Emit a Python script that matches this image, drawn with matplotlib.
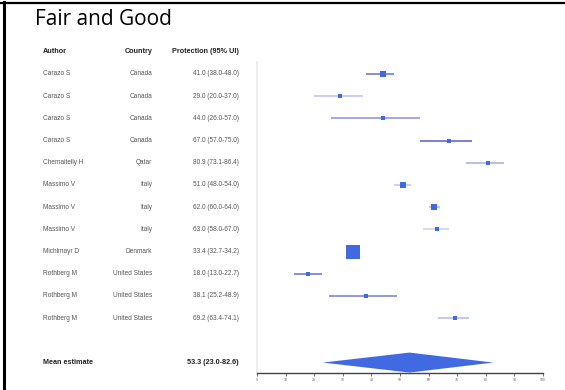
import matplotlib
matplotlib.use("Agg")
import matplotlib.pyplot as plt
import matplotlib.transforms as mtransforms
from matplotlib.patches import Polygon

authors = ["Carazo S", "Carazo S", "Carazo S", "Carazo S", "Chemaitelly H",
           "Massimo V", "Massimo V", "Massimo V", "Michlmayr D",
           "Rothberg M", "Rothberg M", "Rothberg M"]
countries = ["Canada", "Canada", "Canada", "Canada", "Qatar",
             "Italy", "Italy", "Italy", "Denmark",
             "United States", "United States", "United States"]
labels = ["41.0 (38.0-48.0)", "29.0 (20.0-37.0)", "44.0 (26.0-57.0)",
          "67.0 (57.0-75.0)", "80.9 (73.1-86.4)", "51.0 (48.0-54.0)",
          "62.0 (60.0-64.0)", "63.0 (58.0-67.0)", "33.4 (32.7-34.2)",
          "18.0 (13.0-22.7)", "38.1 (25.2-48.9)", "69.2 (63.4-74.1)"]
estimates = [44.0, 29.0, 44.0, 67.0, 80.9, 51.0, 62.0, 63.0, 33.4, 18.0, 38.1, 69.2]
lower = [38.0, 20.0, 26.0, 57.0, 73.1, 48.0, 60.0, 58.0, 32.7, 13.0, 25.2, 63.4]
upper = [48.0, 37.0, 57.0, 75.0, 86.4, 54.0, 64.0, 67.0, 34.2, 22.7, 48.9, 74.1]
weights = [4.3, 3.0, 2.8, 3.0, 3.2, 4.8, 5.0, 3.5, 10.5, 3.5, 2.7, 3.5]
line_colors = ["#7e84d9", "#c6c9ee", "#9ca1e2", "#6d73d5", "#b3b7ea", "#c9ccef",
               "#c3c6ee", "#d2d5f2", "#c3c6ee", "#7f85d9", "#8b90dc", "#c0c4ed"]
mean_est, mean_lo, mean_hi = 53.3, 23.0, 82.6
mean_label = "53.3 (23.0-82.6)"
xticks = [0, 10, 20, 30, 40, 50, 60, 70, 80, 90, 100]

W, H = 565, 390
fig = plt.figure(figsize=(W / 100, H / 100), dpi=100)
fig.patch.set_facecolor("white")

# frame lines
fig.add_artist(plt.Line2D([0, 1], [1 - 2.5 / H, 1 - 2.5 / H], color="black", lw=1.6,
                          transform=fig.transFigure))
fig.add_artist(plt.Line2D([4 / W, 4 / W], [0, 1 - 2 / H], color="black", lw=2.2,
                          transform=fig.transFigure))

fig.text(35 / W, 1 - 19.5 / H, "Fair and Good", fontsize=15, family="Open Sans",
         ha="left", va="center", color="black")

ax = fig.add_axes([257 / W, 17 / H, (543 - 257) / W, (373 - 62) / H])
n = len(authors)
y0 = -0.54
y1 = 13.47
ax.set_ylim(y1, y0)
ax.set_xlim(0, 100)

for i in range(n):
    ax.plot([lower[i], upper[i]], [i, i], color=line_colors[i], lw=1.3,
            solid_capstyle="butt", zorder=2)
    ax.plot(estimates[i], i, marker="s", markersize=weights[i], color="#4169e1",
            markeredgewidth=0, zorder=3)

ym = 13
hh = 0.45
ax.add_patch(Polygon([[mean_lo, ym], [mean_est, ym - hh], [mean_hi, ym], [mean_est, ym + hh]],
                     closed=True, facecolor="#4169e1", edgecolor="none", zorder=3))

for s in ["top", "right"]:
    ax.spines[s].set_visible(False)
ax.spines["left"].set_color("#ececec")
ax.spines["left"].set_linewidth(1.5)
ax.spines["bottom"].set_color("#444444")
ax.spines["bottom"].set_linewidth(1.0)
ax.set_yticks([])
ax.set_xticks(xticks)
ax.set_xticklabels([str(t) for t in xticks])
ax.tick_params(axis="x", length=2, width=0.6, color="#555555", labelsize=2.2,
               labelcolor="#555555", pad=1.5)

trans = mtransforms.blended_transform_factory(fig.transFigure, ax.transData)
font = "Liberation Sans"
fs = 4.7
fsb = 5.2
txtc = "#555555"
hdrc = "#222222"
hy = -1.0
ax.text(43 / W, hy, "Author", transform=trans, fontsize=fsb, weight="bold",
        family=font, ha="left", va="center", color=hdrc, clip_on=False)
ax.text(152.5 / W, hy, "Country", transform=trans, fontsize=fsb, weight="bold",
        family=font, ha="right", va="center", color=hdrc, clip_on=False)
ax.text(239 / W, hy, "Protection (95% UI)", transform=trans, fontsize=fsb, weight="bold",
        family=font, ha="right", va="center", color=hdrc, clip_on=False)

for i in range(n):
    ax.text(43 / W, i, authors[i], transform=trans, fontsize=fs, family=font,
            ha="left", va="center", color=txtc, clip_on=False)
    ax.text(152.5 / W, i, countries[i], transform=trans, fontsize=fs, family=font,
            ha="right", va="center", color=txtc, clip_on=False)
    ax.text(239 / W, i, labels[i], transform=trans, fontsize=fs, family=font,
            ha="right", va="center", color=txtc, clip_on=False)

ax.text(43 / W, ym, "Mean estimate", transform=trans, fontsize=fsb, weight="bold",
        family=font, ha="left", va="center", color=hdrc, clip_on=False)
ax.text(239 / W, ym, mean_label, transform=trans, fontsize=fsb, weight="bold",
        family=font, ha="right", va="center", color=hdrc, clip_on=False)

fig.savefig("out.png", dpi=100)
